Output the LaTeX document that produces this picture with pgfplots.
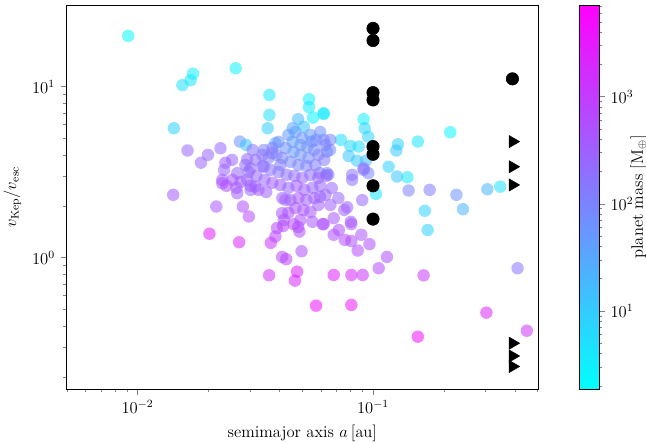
\documentclass[12pt,border=0pt]{standalone}
\usepackage{pgfplots}
\pgfplotsset{compat=1.18}
\usepackage{pgfplotstable}

% a [au], v_Kep/v_esc, m = log10(planet mass / M_earth)
\pgfplotstableread{
a v m
0.00913 19.8 0.35
0.0155 10.2 0.7
0.0168 10.9 0.6
0.0172 11.9 0.5
0.0261 12.8 0.45
0.01426 5.71 0.9
0.0363 8.94 0.6
0.0363 6.83 0.7
0.0357 5.71 0.95
0.0535 8.44 0.5
0.0535 7.58 0.55
0.0556 6.59 0.45
0.0617 6.92 0.65
0.0481 6.45 1.2
0.0456 5.71 1.5
0.0508 5.83 1.1
0.0272 4.77 1.8
0.0289 4.56 1.1
0.0163 4.23 2.4
0.0225 4.36 2.4
0.0199 3.99 2.4
0.0186 3.59 2.4
0.01417 2.33 2.5
0.0216 1.99 2.6
0.0280 1.99 2.7
0.0297 1.74 2.8
0.0202 1.38 3.4
0.0270 1.23 3.3
0.0368 1.22 3.1
0.0385 1.33 2.9
0.0391 1.49 2.8
0.0415 1.53 2.9
0.0460 1.57 2.8
0.0481 1.51 2.8
0.0487 1.42 2.7
0.0497 1.09 2.7
0.0428 0.98 2.9
0.0362 0.789 3.2
0.0476 0.828 3.3
0.0466 0.734 3.3
0.0573 0.524 3.6
0.0612 1.57 2.7
0.0681 0.792 3.4
0.0809 0.792 3.3
0.0904 0.792 3.1
0.0809 0.529 3.5
0.1057 0.867 2.8
0.1146 1.01 2.7
0.0966 1.20 2.7
0.0861 1.10 2.8
0.0892 1.36 2.6
0.0809 1.25 2.7
0.0759 1.27 2.8
0.0681 1.36 2.7
0.0716 1.45 2.7
0.0809 1.57 2.6
0.0617 1.57 2.7
0.1706 1.45 0.9
0.164 0.788 3.0
0.155 0.345 3.6
0.303 0.477 3.3
0.411 0.867 2.2
0.450 0.374 3.1
0.0617 6.99 0.5
0.0912 6.45 0.5
0.0922 5.71 0.8
0.0954 5.10 0.9
0.213 5.41 0.4
0.0731 4.88 0.7
0.0801 4.50 0.8
0.0869 4.46 0.7
0.1276 4.60 0.9
0.1256 4.23 1.0
0.155 4.77 0.6
0.0788 3.93 1.1
0.0855 3.69 1.0
0.0933 3.69 1.2
0.1165 3.40 0.9
0.1265 2.98 1.1
0.140 2.95 0.6
0.103 2.36 0.6
0.1416 2.47 2.0
0.174 2.49 2.1
0.226 2.33 1.8
0.241 1.92 1.3
0.166 1.88 0.9
0.306 2.51 1.3
0.347 2.60 0.7
0.0617 4.88 2.0
0.0637 4.17 1.9
0.0594 3.12 2.2
0.0646 3.05 2.1
0.0815 3.05 2.2
0.0912 3.33 2.3
0.0955 3.12 2.0
0.090 2.17 2.4
0.0777 1.97 2.5
0.0668 2.55 2.4
0.0596 2.27 2.5
0.0681 1.70 2.6
0.0805 1.62 2.6
0.0657 4.26 1.9
0.055 4.77 1.8
0.0637 3.12 2.0
0.0815 2.85 2.3
0.0912 3.26 2.2
0.0344 4.26 2.0
0.0385 4.67 1.3
0.0373 4.08 2.3
0.0292 3.76 2.4
0.0252 3.73 2.4
0.0236 3.59 2.5
0.0233 3.26 2.4
0.0265 3.12 2.4
0.0302 3.33 2.3
0.0229 2.85 2.6
0.0344 3.40 2.2
0.0292 2.85 2.4
0.0229 2.72 2.7
0.0265 2.38 2.5
0.0411 1.82 2.6
0.0418 1.66 2.7
0.0411 1.01 2.8
0.0424 2.18 2.5
0.0302 2.49 2.4
0.0316 2.60 2.5
0.0437 5.22 1.7
0.0468 5.43 1.6
0.0501 5.01 1.8
0.0542 5.22 1.7
0.0574 4.88 1.9
0.0455 4.75 1.6
0.0492 4.56 1.7
0.0526 4.44 1.8
0.0563 4.26 1.9
0.0425 4.38 1.8
0.0459 4.15 1.7
0.0492 3.99 1.8
0.0532 3.83 1.9
0.0586 3.99 2.0
0.0412 3.83 2.0
0.0446 3.63 1.9
0.0482 3.48 2.0
0.0521 3.44 2.0
0.0569 3.48 2.1
0.0621 3.73 2.1
0.0397 4.75 1.9
0.0374 4.38 2.1
0.0628 4.56 2.0
0.0659 4.88 2.0
0.0597 5.43 1.8
0.0317 3.73 2.3
0.0339 3.44 2.3
0.0367 3.26 2.2
0.0397 3.17 2.2
0.0429 3.05 2.3
0.0463 3.01 2.3
0.0501 2.93 2.4
0.0542 3.05 2.3
0.0586 2.93 2.4
0.0634 3.01 2.4
0.0296 3.17 2.4
0.0320 3.01 2.4
0.0346 2.85 2.4
0.0374 2.74 2.5
0.0404 2.66 2.5
0.0437 2.56 2.4
0.0473 2.63 2.5
0.0511 2.49 2.5
0.0553 2.56 2.4
0.0597 2.63 2.4
0.0274 2.77 2.5
0.0253 2.85 2.6
0.02385 2.63 2.7
0.0263 2.56 2.6
0.0302 2.63 2.5
0.0326 2.49 2.5
0.0352 2.42 2.5
0.0412 2.23 2.5
0.0446 2.17 2.5
0.0482 2.23 2.6
0.0521 2.17 2.5
0.0563 2.23 2.5
0.0468 1.95 2.6
0.0506 1.90 2.6
0.0437 1.83 2.7
0.0542 1.85 2.6
0.0586 2.03 2.5
0.0628 2.33 2.4
0.0492 1.66 2.7
0.0553 1.62 2.6
0.0659 2.03 2.5
0.0713 2.23 2.4
0.0755 1.90 2.5
0.0339 3.99 2.2
0.0360 3.83 2.1
0.0389 3.99 2.0
0.0404 3.48 2.1
0.0308 4.26 2.2
0.0287 3.48 2.3
}\datapl

\begin{document}
\begin{tikzpicture}
\useasboundingbox (-0.667in,-0.54in) rectangle (5.793in,3.89in);
\begin{axis}[
    scale only axis,
    width=4.713in, height=3.84in,
    xmode=log, ymode=log,
    xmin=0.005, xmax=0.502,
    ymin=0.1706, ymax=30,
    tick pos=left,
    tick align=outside,
    major tick length=4.3pt,
    minor tick length=2.5pt,
    xlabel={semimajor axis $a\,[\mathrm{au}]$},
    ylabel={$v_\mathrm{Kep}/v_\mathrm{esc}$},
    colormap={cool}{rgb=(0,1,1) rgb=(1,0,1)},
    point meta min=0.27, point meta max=3.855,
    colorbar,
    colorbar style={
        name=cbar,
        at={(parent axis.north east)}, anchor=north west, xshift=0.29in,
        scale only axis, width=0.2in, height=3.84in,
        ytick={1,2,3},
        yticklabels={$10^{1}$,$10^{2}$,$10^{3}$},
        minor ytick={0.301,0.477,0.602,0.699,0.778,0.845,0.903,0.954,
            1.301,1.477,1.602,1.699,1.778,1.845,1.903,1.954,
            2.301,2.477,2.602,2.699,2.778,2.845,2.903,2.954,
            3.301,3.477,3.602,3.699,3.778,3.845},
        tick pos=right, yticklabel pos=right,
        tick align=outside,
        major tick length=4.3pt, minor tick length=2.5pt,
    },
]
\addplot[scatter, only marks, mark=*, mark size=4.5pt,
    point meta=explicit,
    scatter/use mapped color={draw opacity=0, fill=mapped color, fill opacity=0.55}]
    table[x=a, y=v, meta=m] {\datapl};

\addplot[only marks, mark=*, mark size=4.5pt, black]
    coordinates {(0.1,21.9)(0.1,18.6)(0.1,9.22)(0.1,8.36)(0.1,4.46)(0.1,4.02)(0.1,2.63)(0.1,1.68)(0.391,11.1)};

\addplot[only marks, mark=triangle*, mark size=5pt, black, mark options={rotate=-90}]
    coordinates {(0.392,4.77)(0.392,3.40)(0.392,2.66)(0.392,0.316)(0.392,0.266)(0.392,0.231)};
\end{axis}
\path (cbar.east) ++(0.40in,0) node[rotate=90, anchor=center] {planet mass [$\mathrm{M}_\oplus$]};
\end{tikzpicture}
\end{document}
